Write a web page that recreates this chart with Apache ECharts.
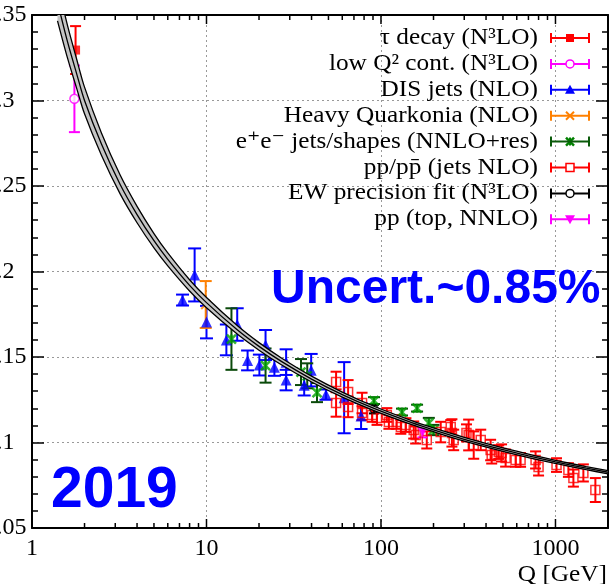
<!DOCTYPE html>
<html>
<head>
<meta charset="utf-8">
<script src="https://cdn.jsdelivr.net/npm/echarts@6/dist/echarts.min.js"></script>
<style>
html,body{margin:0;padding:0;background:#fff;}
#myChart{width:610px;height:584px;}
</style>
</head>
<body>
<div id="myChart"></div>
<script>
// world average running coupling (band)
var curveQ   = [1.4, 1.6, 1.8, 2.0, 2.5, 3.2, 4, 5, 6, 8, 10, 15, 20, 27, 40, 60, 91.2, 150, 200, 300, 500, 700, 1000, 1500, 2000];
var curveMid = [0.3576, 0.3341, 0.3159, 0.300, 0.2745, 0.2509, 0.2333, 0.2180, 0.2071, 0.1919, 0.1818, 0.1659, 0.1562, 0.1473, 0.1371, 0.1280, 0.1199, 0.1116, 0.1074, 0.1019, 0.0958, 0.0922, 0.0887, 0.0850, 0.0826];
var curveErr = [0.011, 0.0095, 0.0085, 0.0078, 0.0065, 0.0055, 0.0048, 0.0042, 0.0038, 0.0033, 0.003, 0.0025, 0.0022, 0.002, 0.0017, 0.0015, 0.0013, 0.0012, 0.0011, 0.0011, 0.001, 0.001, 0.0009, 0.0009, 0.0009];

// measurements: Q, alpha_s, error
var tauQ = [1.777], tauA = [0.3295], tauE = [0.014];
var lowQ2Q = [1.75], lowQ2A = [0.301], lowQ2E = [0.0195];
var disQ = [7.29, 8.55, 10.0, 13.0, 15.0, 17.2, 20.1, 21.8, 24.5, 28.6, 28.6, 36.3, 39.8, 48.4, 61.5, 76.9];
var disA = [0.1833, 0.198, 0.1704, 0.160, 0.169, 0.148, 0.1453, 0.157, 0.144, 0.147, 0.1365, 0.1335, 0.1423, 0.128, 0.1262, 0.1155];
var disE = [0.0032, 0.0155, 0.0095, 0.009, 0.0095, 0.0058, 0.0061, 0.0088, 0.005, 0.0075, 0.006, 0.006, 0.0095, 0.003, 0.0208, 0.0076];
var quarkQ = [9.9], quarkA = [0.1807], quarkE = [0.0137];
var eeQ = [13.9, 21.8, 34.8, 37.8, 43.0, 91.2, 132, 161, 188, 200];
var eeA = [0.1605, 0.145, 0.1412, 0.139, 0.1292, 0.1245, 0.1178, 0.1201, 0.1114, 0.1073];
var eeE = [0.018, 0.010, 0.0076, 0.0073, 0.0056, 0.002, 0.002, 0.002, 0.003, 0.003];
var ppQ = [55.3, 55.3, 64.8, 64.8, 77.9, 77.9, 88.9, 94.9, 108, 111, 123, 130, 139, 154, 158, 183, 220, 251, 255, 261, 309, 318, 340, 373, 425, 431, 473, 491, 518, 591, 631, 769, 800, 1014, 1186, 1267, 1445, 1693];
var ppA = [0.1354, 0.1231, 0.1295, 0.1208, 0.1231, 0.1172, 0.1161, 0.1143, 0.1161, 0.1120, 0.1120, 0.1091, 0.1102, 0.1073, 0.1044, 0.1015, 0.1061, 0.1091, 0.1056, 0.1015, 0.1056, 0.1044, 0.0985, 0.1015, 0.0956, 0.0927, 0.0944, 0.0939, 0.0909, 0.0898, 0.0898, 0.0898, 0.0857, 0.0868, 0.0839, 0.0792, 0.0822, 0.0722];
var ppE = [0.006, 0.008, 0.007, 0.006, 0.006, 0.004, 0.004, 0.004, 0.004, 0.004, 0.004, 0.004, 0.004, 0.005, 0.005, 0.005, 0.006, 0.004, 0.008, 0.006, 0.005, 0.009, 0.008, 0.006, 0.006, 0.005, 0.004, 0.005, 0.005, 0.004, 0.004, 0.005, 0.005, 0.004, 0.004, 0.005, 0.005, 0.007];
var ewQ = [91.2], ewA = [0.1195], ewE = [0.0025];
var topQ = [173], topA = [0.106], topE = [0.003];

// axis ticks
var xLabels = [1, 10, 100, 1000];
var xMajorTicks = [10, 100, 1000];
var xMinorTicks = [2, 3, 4, 5, 6, 7, 8, 9, 20, 30, 40, 50, 60, 70, 80, 90, 200, 300, 400, 500, 600, 700, 800, 900];

var legendNames = ['τ decay (N³LO)', 'low Q² cont. (N³LO)', 'DIS jets (NLO)', 'Heavy Quarkonia (NLO)',
	'e⁺e⁻ jets/shapes (NNLO+res)', 'pp/pp̄ (jets NLO)', 'EW precision fit (N³LO)', 'pp (top, NNLO)'];

var serif = 'Liberation Serif, Times New Roman, DejaVu Serif, serif';

function zip3(q, a, e) {
	var arr = [];
	for (var i = 0; i < q.length; i++) arr.push([q[i], a[i], e[i]]);
	return arr;
}

function errBars(name, q, a, e, color, cap) {
	return {
		name: name,
		type: 'custom',
		data: zip3(q, a, e),
		encode: {x: 0, y: 1},
		clip: true,
		z: 2,
		silent: true,
		renderItem: function(params, api) {
			var x = api.value(0), y = api.value(1), d = api.value(2);
			var p1 = api.coord([x, y + d]), p2 = api.coord([x, y - d]);
			function ln(x1, y1, x2, y2) {
				return {type: 'line', shape: {x1: x1, y1: y1, x2: x2, y2: y2}, style: {stroke: color, lineWidth: 2}};
			}
			return {type: 'group', children: [
				ln(p1[0], p1[1], p2[0], p2[1]),
				ln(p1[0] - cap, p1[1], p1[0] + cap, p1[1]),
				ln(p2[0] - cap, p2[1], p2[0] + cap, p2[1])
			]};
		}
	};
}

function marks(name, q, a, symbol, size, style) {
	var arr = [];
	for (var i = 0; i < q.length; i++) arr.push([q[i], a[i]]);
	return {name: name, type: 'scatter', data: arr, symbol: symbol, symbolSize: size, itemStyle: style, z: 3, silent: true};
}

function tickSeries(list, len) {
	return {
		type: 'custom',
		data: list.map(function(q) { return [q, 0.05]; }),
		encode: {x: 0, y: 1},
		clip: false,
		silent: true,
		z: 6,
		renderItem: function(params, api) {
			var q = api.value(0);
			var b = api.coord([q, 0.05]), t = api.coord([q, 0.35]);
			return {type: 'group', children: [
				{type: 'line', shape: {x1: b[0], y1: b[1], x2: b[0], y2: b[1] - len}, style: {stroke: '#000', lineWidth: 1.5}},
				{type: 'line', shape: {x1: t[0], y1: t[1], x2: t[0], y2: t[1] + len}, style: {stroke: '#000', lineWidth: 1.5}}
			]};
		}
	};
}

function curveLine(sign) {
	var arr = [];
	for (var i = 0; i < curveQ.length; i++) arr.push([curveQ[i], curveMid[i] + sign * curveErr[i]]);
	return {type: 'line', data: arr, showSymbol: false, smooth: 0.3, silent: true, z: 5,
		lineStyle: {color: '#000', width: 1.3}};
}

// legend drawn by hand: text, error bar, marker
function legendMarker(i, cx, cy) {
	var red = '#ff0000', mag = '#ff00ff';
	switch (i) {
		case 0: return {type: 'rect', shape: {x: cx - 4, y: cy - 4, width: 8, height: 8}, style: {fill: red}};
		case 1: return {type: 'circle', shape: {cx: cx, cy: cy, r: 4}, style: {fill: '#fff', stroke: mag, lineWidth: 1.5}};
		case 2: return {type: 'polygon', shape: {points: [[cx - 5, cy + 4], [cx + 5, cy + 4], [cx, cy - 5]]}, style: {fill: '#0000ff'}};
		case 3: return {type: 'group', children: [
			{type: 'line', shape: {x1: cx - 4, y1: cy - 4, x2: cx + 4, y2: cy + 4}, style: {stroke: '#ff8000', lineWidth: 2}},
			{type: 'line', shape: {x1: cx - 4, y1: cy + 4, x2: cx + 4, y2: cy - 4}, style: {stroke: '#ff8000', lineWidth: 2}}]};
		case 4: return {type: 'group', children: [
			{type: 'line', shape: {x1: cx - 4, y1: cy - 4, x2: cx + 4, y2: cy + 4}, style: {stroke: '#008000', lineWidth: 2.5}},
			{type: 'line', shape: {x1: cx - 4, y1: cy + 4, x2: cx + 4, y2: cy - 4}, style: {stroke: '#008000', lineWidth: 2.5}},
			{type: 'line', shape: {x1: cx, y1: cy - 4, x2: cx, y2: cy + 4}, style: {stroke: '#008000', lineWidth: 2}}]};
		case 5: return {type: 'rect', shape: {x: cx - 4, y: cy - 4, width: 8, height: 8}, style: {fill: '#fff', stroke: red, lineWidth: 1.5}};
		case 6: return {type: 'circle', shape: {cx: cx, cy: cy, r: 4}, style: {fill: '#fff', stroke: '#000', lineWidth: 1.5}};
		default: return {type: 'polygon', shape: {points: [[cx - 5, cy - 4], [cx + 5, cy - 4], [cx, cy + 5]]}, style: {fill: mag}};
	}
}
var legendBarColors = ['#ff0000', '#ff00ff', '#0000ff', '#ff8000', '#0a5a0a', '#ff0000', '#000000', '#ff00ff'];

var graphics = [];
for (var i = 0; i < legendNames.length; i++) {
	var cy = 38 + i * 25.9;
	var c = legendBarColors[i];
	graphics.push({type: 'text', z: 100, x: 538, y: cy, scaleX: 1.1,
		style: {text: legendNames[i], x: 0, y: 0, align: 'right', textAlign: 'right',
		verticalAlign: 'middle', textVerticalAlign: 'middle', font: '23px ' + serif, fill: '#000'}});
	graphics.push({type: 'line', z: 100, shape: {x1: 551, y1: cy, x2: 589, y2: cy}, style: {stroke: c, lineWidth: 2}});
	graphics.push({type: 'line', z: 100, shape: {x1: 551, y1: cy - 5, x2: 551, y2: cy + 5}, style: {stroke: c, lineWidth: 2}});
	graphics.push({type: 'line', z: 100, shape: {x1: 589, y1: cy - 5, x2: 589, y2: cy + 5}, style: {stroke: c, lineWidth: 2}});
	var m = legendMarker(i, 570, cy);
	m.z = 101;
	graphics.push(m);
}
graphics.push({type: 'text', z: 100, style: {text: 'Uncert.~0.85%', x: 271, y: 290, verticalAlign: 'middle', textVerticalAlign: 'middle',
	font: 'bold 48px Liberation Sans, Arial, sans-serif', fill: '#0000ff'}});
graphics.push({type: 'text', z: 100, style: {text: '2019', x: 51, y: 491, verticalAlign: 'middle', textVerticalAlign: 'middle',
	font: 'bold 57px Liberation Sans, Arial, sans-serif', fill: '#0000ff'}});
graphics.push({type: 'text', z: 100, x: 607, y: 575, scaleX: 1.1,
	style: {text: 'Q [GeV]', x: 0, y: 0, align: 'right', textAlign: 'right',
	verticalAlign: 'middle', textVerticalAlign: 'middle', font: '23px ' + serif, fill: '#000'}});

var myChart = echarts.init(document.getElementById('myChart'));

var axisLineStyle = {show: true, lineStyle: {color: '#000', width: 2}};
var gridDots = {show: true, lineStyle: {color: '#999', width: 1, type: [2, 3]}};

myChart.setOption({
	animation: false,
	backgroundColor: '#fff',
	grid: {left: 32, top: 15, right: 2, bottom: 56, containLabel: false, outerBoundsMode: 'none'},
	graphic: graphics,
	xAxis: [{
		type: 'log', logBase: 10, min: 1, max: 2000, position: 'bottom',
		axisLine: axisLineStyle,
		axisTick: {show: false},
		axisLabel: {
			fontFamily: serif, fontSize: 24, color: '#000', margin: 9, showMaxLabel: false,
			formatter: function(v) {
				var r = Math.round(v);
				return xLabels.indexOf(r) >= 0 ? String(r) : '';
			}
		},
		splitLine: gridDots
	}, {
		type: 'log', logBase: 10, min: 1, max: 2000, position: 'top',
		axisLine: axisLineStyle, axisTick: {show: false}, axisLabel: {show: false}, splitLine: {show: false}
	}],
	yAxis: [{
		type: 'value', min: 0.05, max: 0.35, interval: 0.05,
		axisLine: axisLineStyle,
		axisTick: {show: true, inside: true, length: 12, lineStyle: {color: '#000', width: 1.5}},
		minorTick: {show: true, splitNumber: 5, length: 6, lineStyle: {color: '#000', width: 1.5}},
		axisLabel: {
			fontFamily: serif, fontSize: 24, color: '#000', align: 'left', margin: 47.5,
			formatter: function(v) { return String(+v.toFixed(2)); }
		},
		splitLine: gridDots
	}, {
		type: 'value', min: 0.05, max: 0.35, interval: 0.05, position: 'right',
		axisLine: axisLineStyle,
		axisTick: {show: true, inside: true, length: 12, lineStyle: {color: '#000', width: 1.5}},
		minorTick: {show: true, splitNumber: 5, length: 6, lineStyle: {color: '#000', width: 1.5}},
		axisLabel: {show: false}, splitLine: {show: false}
	}],
	series: [
		{
			type: 'custom', data: [[curveQ[0], curveMid[0]]], encode: {x: 0, y: 1}, clip: true, silent: true, z: 4,
			renderItem: function(params, api) {
				var pts = [], i;
				for (i = 0; i < curveQ.length; i++) pts.push(api.coord([curveQ[i], curveMid[i] + curveErr[i]]));
				for (i = curveQ.length - 1; i >= 0; i--) pts.push(api.coord([curveQ[i], curveMid[i] - curveErr[i]]));
				return {type: 'polygon', shape: {points: pts}, style: {fill: '#c4c4c4'}};
			}
		},
		curveLine(1), curveLine(0), curveLine(-1),
		errBars('tau', tauQ, tauA, tauE, '#ff0000', 5.5),
		errBars('lowQ2', lowQ2Q, lowQ2A, lowQ2E, '#ff00ff', 5.5),
		errBars('dis', disQ, disA, disE, '#0000ff', 6.5),
		errBars('quark', quarkQ, quarkA, quarkE, '#ff8000', 6),
		errBars('ee', eeQ, eeA, eeE, '#0a4a0a', 6),
		errBars('pp', ppQ, ppA, ppE, '#ff0000', 5.5),
		errBars('ew', ewQ, ewA, ewE, '#000000', 5),
		errBars('top', topQ, topA, topE, '#ff00ff', 5),
		marks('tau', tauQ, tauA, 'rect', 9, {color: '#ff0000'}),
		marks('lowQ2', lowQ2Q, lowQ2A, 'circle', 9, {color: '#ffffff', borderColor: '#ff00ff', borderWidth: 1.5}),
		marks('dis', disQ, disA, 'triangle', 11, {color: '#0000ff'}),
		marks('quark', quarkQ, quarkA, 'path://M0,0L10,10M10,0L0,10', 9, {color: 'none', borderColor: '#ff8000', borderWidth: 2}),
		marks('ee', eeQ, eeA, 'path://M0,0L10,10M10,0L0,10M5,0L5,10', 9, {color: 'none', borderColor: '#00a000', borderWidth: 2.5}),
		marks('pp', ppQ, ppA, 'rect', 9, {color: 'rgba(0,0,0,0)', borderColor: '#ff0000', borderWidth: 1.5}),
		marks('ew', ewQ, ewA, 'circle', 8, {color: 'rgba(0,0,0,0)', borderColor: '#000000', borderWidth: 1.5}),
		marks('top', topQ, topA, 'path://M0,0L10,0L5,9Z', 10, {color: '#ff00ff'}),
		tickSeries(xMajorTicks, 9),
		tickSeries(xMinorTicks, 5)
	]
});
</script>
</body>
</html>
